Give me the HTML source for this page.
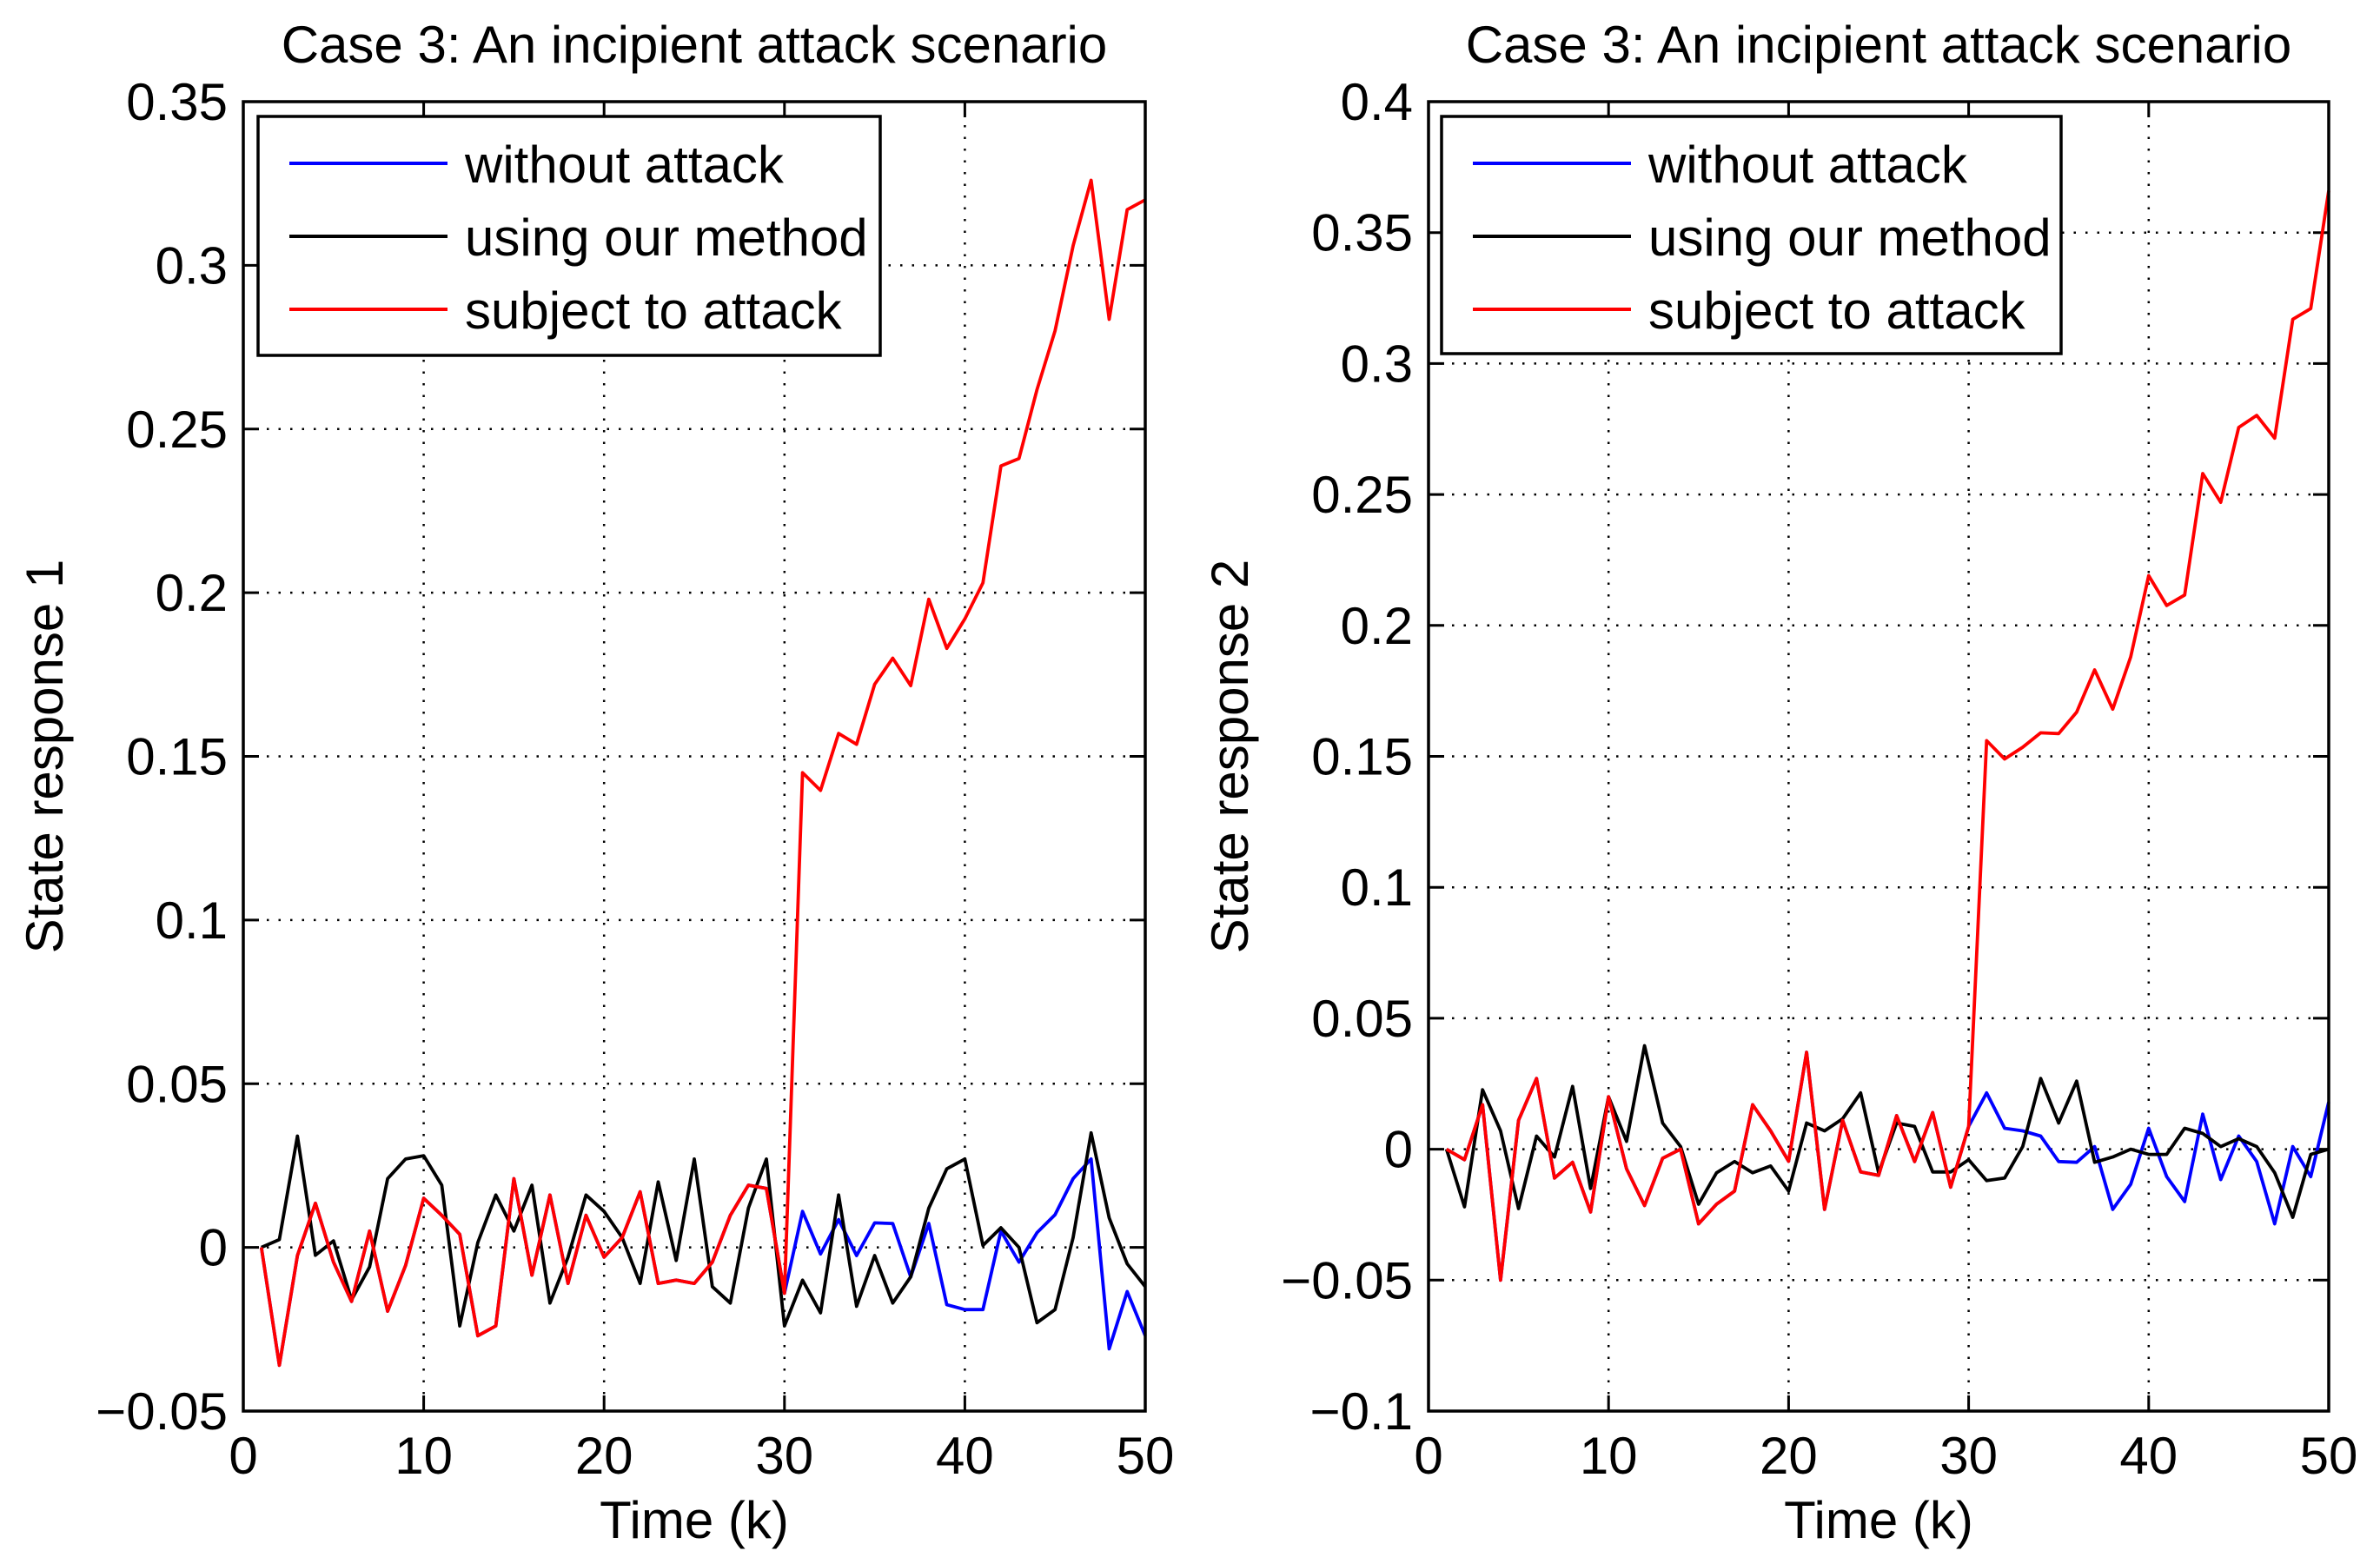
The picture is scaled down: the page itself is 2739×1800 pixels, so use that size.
<!DOCTYPE html>
<html><head><meta charset="utf-8"><style>
html,body{margin:0;padding:0;background:#fff}
svg{display:block;font-family:"Liberation Sans",Arial,sans-serif}
</style></head><body>
<svg id="fig" width="2739" height="1800" viewBox="0 0 2739 1800" xmlns="http://www.w3.org/2000/svg"></svg>
<script>
const xTicks=[0,10,20,30,40,50];
const yTicks1=[-0.05,0,0.05,0.1,0.15,0.2,0.25,0.3,0.35];
const yTickLabels1=["\u22120.05","0","0.05","0.1","0.15","0.2","0.25","0.3","0.35"];
const yTicks2=[-0.1,-0.05,0,0.05,0.1,0.15,0.2,0.25,0.3,0.35,0.4];
const yTickLabels2=["\u22120.1","\u22120.05","0","0.05","0.1","0.15","0.2","0.25","0.3","0.35","0.4"];
const legendLabels=["without attack","using our method","subject to attack"];
const red1=[0,-0.036,-0.0025,0.0135,-0.0045,-0.0165,0.005,-0.0195,-0.0055,0.015,0.0098,0.004,-0.027,-0.024,0.021,-0.0085,0.016,-0.011,0.0098,-0.003,0.003,0.017,-0.011,-0.010,-0.011,-0.0045,0.0098,0.019,0.018,-0.014,0.145,0.1396,0.157,0.1537,0.172,0.18,0.1716,0.198,0.183,0.192,0.203,0.2387,0.241,0.262,0.280,0.306,0.326,0.2835,0.317,0.320];
const blue1=[0,-0.036,-0.0025,0.0135,-0.0045,-0.0165,0.005,-0.0195,-0.0055,0.015,0.0098,0.004,-0.027,-0.024,0.021,-0.0085,0.016,-0.011,0.0098,-0.003,0.003,0.017,-0.011,-0.010,-0.011,-0.0045,0.0098,0.019,0.018,-0.014,0.011,-0.002,0.0085,-0.0025,0.0075,0.0073,-0.009,0.0073,-0.0175,-0.019,-0.019,0.005,-0.0045,0.0045,0.01,0.021,0.027,-0.031,-0.0135,-0.027];
const black1=[0,0.0024,0.034,-0.0024,0.002,-0.016,-0.006,0.021,0.027,0.028,0.019,-0.024,0.0015,0.016,0.005,0.019,-0.017,-0.003,0.016,0.011,0.003,-0.011,0.020,-0.004,0.027,-0.012,-0.017,0.012,0.027,-0.024,-0.010,-0.020,0.016,-0.018,-0.0025,-0.017,-0.009,0.012,0.024,0.027,0.0006,0.006,0,-0.023,-0.019,0.003,0.035,0.009,-0.005,-0.012];
const red2=[0,-0.004,0.017,-0.05,0.011,0.027,-0.011,-0.005,-0.024,0.02,-0.0075,-0.0215,-0.0035,0,-0.0285,-0.021,-0.016,0.017,0.007,-0.0046,0.037,-0.023,0.011,-0.0087,-0.01,0.0128,-0.0047,0.014,-0.0145,0.0087,0.156,0.149,0.1535,0.159,0.1587,0.1669,0.183,0.168,0.188,0.219,0.2076,0.2116,0.258,0.247,0.2756,0.2802,0.2715,0.3169,0.321,0.366];
const blue2=[0,-0.004,0.017,-0.05,0.011,0.027,-0.011,-0.005,-0.024,0.02,-0.0075,-0.0215,-0.0035,0,-0.0285,-0.021,-0.016,0.017,0.007,-0.0046,0.037,-0.023,0.011,-0.0087,-0.01,0.0128,-0.0047,0.014,-0.0145,0.0087,0.0215,0.008,0.007,0.005,-0.0047,-0.005,0.001,-0.023,-0.0134,0.008,-0.0105,-0.02,0.0134,-0.0116,0.005,-0.0047,-0.0285,0.001,-0.0105,0.018];
const black2=[0,-0.022,0.0227,0.007,-0.0227,0.005,-0.003,0.024,-0.015,0.02,0.003,0.0395,0.01,0.001,-0.021,-0.009,-0.0047,-0.009,-0.0064,-0.016,0.01,0.007,0.0116,0.0215,-0.009,0.01,0.0087,-0.0087,-0.0087,-0.004,-0.012,-0.011,0.001,0.027,0.01,0.026,-0.005,-0.003,0,-0.002,-0.002,0.008,0.006,0.001,0.004,0.001,-0.009,-0.026,-0.002,0];

const NS="http://www.w3.org/2000/svg";
const svg=document.getElementById('fig');
const FS=60;
function mk(tag,attrs,parent){const e=document.createElementNS(NS,tag);for(const k in attrs)e.setAttribute(k,attrs[k]);(parent||svg).appendChild(e);return e;}

function panel(id,L,R,T,B,ymin,ymax,yT,yL,series,ylabel,leg){
  const g=mk('g',{});
  
  
  const sx=v=>L+(v-0)/(50-0)*(R-L);
  const sy=v=>B-(v-ymin)/(ymax-ymin)*(B-T);
  xTicks.forEach(t=>{
    if(t>0&&t<50){const l=mk('line',{x1:sx(t),x2:sx(t),y1:T,y2:B,stroke:'#000','stroke-width':2.5,'stroke-dasharray':'2.5 11'},g);
    }
    const tk=mk('line',{x1:sx(t),x2:sx(t),y1:B,y2:B-18,stroke:'#000','stroke-width':3},g);
    
    const tk2=mk('line',{x1:sx(t),x2:sx(t),y1:T,y2:T+18,stroke:'#000','stroke-width':3},g);
    
    const tx=mk('text',{x:sx(t),y:B+72,'font-size':FS,'text-anchor':'middle'},g);tx.textContent=t;
    
  });
  yT.forEach((t,i)=>{
    const y=sy(t);
    if(i>0&&i<yT.length-1){const l=mk('line',{x1:L,x2:R,y1:y,y2:y,stroke:'#000','stroke-width':2.5,'stroke-dasharray':'2.5 11'},g);
    }
    const tk=mk('line',{x1:L,x2:L+18,y1:y,y2:y,stroke:'#000','stroke-width':3},g);
    
    const tk2=mk('line',{x1:R,x2:R-18,y1:y,y2:y,stroke:'#000','stroke-width':3},g);
    
    const tx=mk('text',{x:L-18,y:y+21,'font-size':FS,'text-anchor':'end'},g);tx.textContent=yL[i];
    
  });
  series.forEach(s=>{
    const pts=s.data.map((v,i)=>sx(i+1).toFixed(1)+','+sy(v).toFixed(1)).join(' ');
    const p=mk('polyline',{points:pts,fill:'none',stroke:s.color,'stroke-width':3.8,'stroke-linejoin':'round'},g);
    
  });
  const box=mk('rect',{x:L,y:T,width:R-L,height:B-T,fill:'none',stroke:'#000','stroke-width':3.5},g);
  
  const title=mk('text',{x:(L+R)/2,y:72,'font-size':FS,'text-anchor':'middle'},g);
  title.textContent='Case 3: An incipient attack scenario';
  
  const xl=mk('text',{x:(L+R)/2,y:1770,'font-size':FS,'text-anchor':'middle'},g);
  xl.textContent='Time (k)';
  
  const yx=L-208,yy=(T+B)/2;
  const yl=mk('text',{x:yx,y:yy,'font-size':FS,'text-anchor':'middle',transform:`rotate(-90 ${yx} ${yy})`},g);
  yl.textContent=ylabel;
  
  const lg=mk('g',{},g);
  
  const lb=mk('rect',{x:leg.x,y:leg.y,width:leg.w,height:leg.h,fill:'#fff',stroke:'#000','stroke-width':3.5},lg);
  
  const cols=['#0000ff','#000000','#ff0000'];
  legendLabels.forEach((lab,i)=>{
    const y=leg.y+54+i*84;
    const ln=mk('line',{x1:leg.x+36,x2:leg.x+218,y1:y,y2:y,stroke:cols[i],'stroke-width':4},lg);
    
    const tx=mk('text',{x:leg.x+238,y:y+22,'font-size':FS},lg);tx.textContent=lab;
    
  });
}
panel('chart-state-1',280,1318,117,1624,-0.05,0.35,yTicks1,yTickLabels1,
 [{name:'line-without-attack',color:'#0000ff',data:blue1},{name:'line-our-method',color:'#000000',data:black1},{name:'line-subject-to-attack',color:'#ff0000',data:red1}],
 'State response 1',{x:297,y:134,w:716,h:275});
panel('chart-state-2',1644,2680,117,1624,-0.1,0.4,yTicks2,yTickLabels2,
 [{name:'line-without-attack',color:'#0000ff',data:blue2},{name:'line-our-method',color:'#000000',data:black2},{name:'line-subject-to-attack',color:'#ff0000',data:red2}],
 'State response 2',{x:1659,y:134,w:713,h:273});
</script>
</body></html>
